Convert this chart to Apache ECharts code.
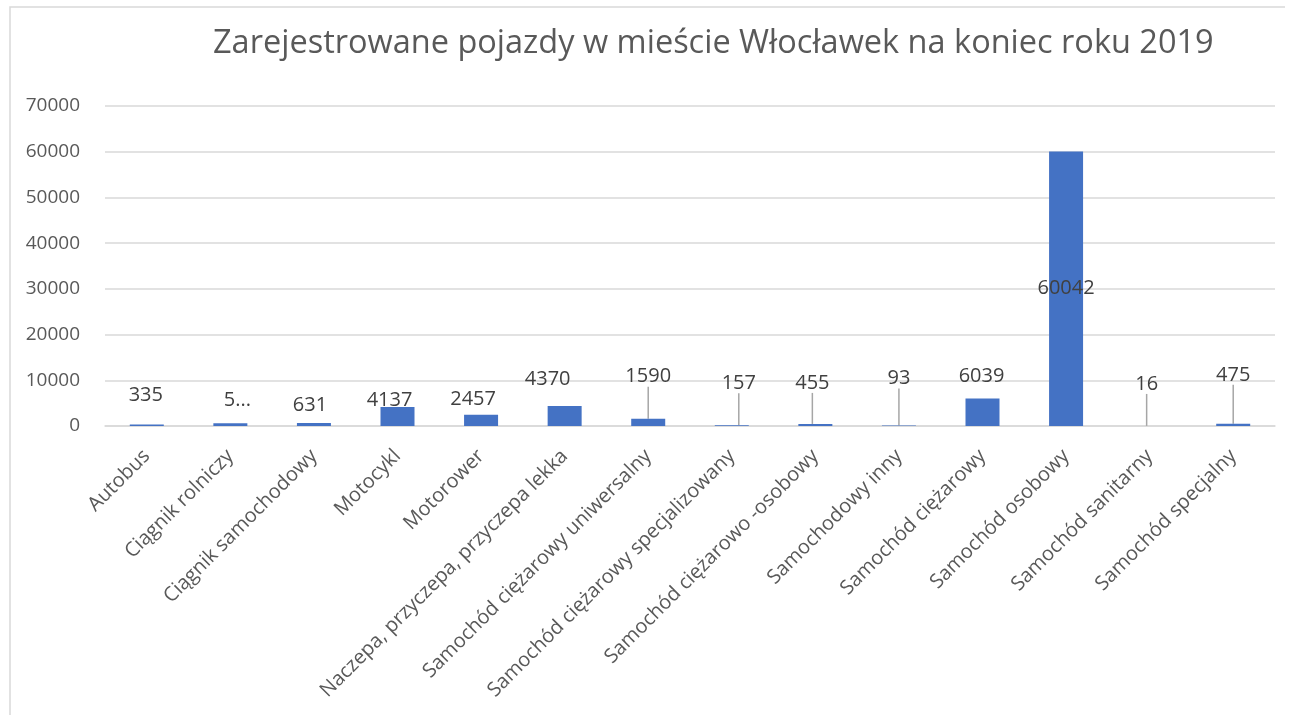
<!DOCTYPE html>
<html>
<head>
<meta charset="utf-8">
<script src="https://cdn.jsdelivr.net/npm/echarts@6/dist/echarts.min.js"></script>
<style>
html,body{margin:0;padding:0;background:#fff;}
#chart{width:1291px;height:715px;}
</style>
</head>
<body>
<div id="chart"></div>
<script>
const categories = [
  'Autobus',
  'Ciągnik rolniczy',
  'Ciągnik samochodowy',
  'Motocykl',
  'Motorower',
  'Naczepa, przyczepa, przyczepa lekka',
  'Samochód ciężarowy uniwersalny',
  'Samochód ciężarowy specjalizowany',
  'Samochód ciężarowo -osobowy',
  'Samochodowy inny',
  'Samochód ciężarowy',
  'Samochód osobowy',
  'Samochód sanitarny',
  'Samochód specjalny'
];
const values = [335, 580, 631, 4137, 2457, 4370, 1590, 157, 455, 93, 6039, 60042, 16, 475];
// label text shown in the reference where it differs from the value (truncated box)
const labelOverrides = [null, '5...', null, null, null, null, null, null, null, null, null, null, null, null];
const titleText = 'Zarejestrowane pojazdy w mieście Włocławek na koniec roku 2019';

// label placement tweaks (pixels) mimicking manually moved Excel labels
const labelShift = [
  [-1, -14], [7, -8], [-4, -3], [-8, 8], [-8, 0], [-17, -12], [0, -27],
  [7, -27], [-3, -26], [0, -32], [-1, -7], [0, 0], [-3, -27], [0, -34]
];
const withLeader = [6, 7, 8, 9, 12, 13];
const insideLabel = [11];
const LEADER_GAP = 7;

const FONT = 'Open Sans';
const chart = echarts.init(document.getElementById('chart'), null, {renderer: 'canvas'});

const seriesData = values.map((v, i) => {
  const item = {value: v};
  if (withLeader.indexOf(i) >= 0) {
    item.labelLine = {show: true};
    item.label = {padding: [0, 0, LEADER_GAP, 0]};
  }
  if (insideLabel.indexOf(i) >= 0) {
    item.label = {position: 'inside'};
  }
  return item;
});

chart.setOption({
  animation: false,
  backgroundColor: '#ffffff',
  title: {
    text: titleText,
    left: 208,
    top: 22,
    textStyle: {fontFamily: FONT, fontSize: 32.5, fontWeight: 'normal', color: '#595959'}
  },
  graphic: [{
    type: 'polyline',
    shape: {points: [[10, 720], [10, 7], [1285, 7]]},
    style: {stroke: '#d9d9d9', lineWidth: 1.5, fill: null},
    silent: true
  }],
  grid: {left: 105, right: 16, top: 106, bottom: 289, containLabel: false},
  xAxis: {
    type: 'category',
    data: categories,
    axisLine: {show: true, lineStyle: {color: '#d9d9d9', width: 1.5}},
    axisTick: {show: false},
    axisLabel: {
      interval: 0,
      rotate: 45,
      margin: 27,
      fontFamily: FONT,
      fontSize: 20,
      color: '#595959'
    }
  },
  yAxis: {
    type: 'value',
    min: 0,
    max: 70000,
    interval: 10000,
    axisLine: {show: false},
    axisTick: {show: false},
    splitLine: {lineStyle: {color: '#d9d9d9', width: 1.5}},
    axisLabel: {
      margin: 25, fontFamily: FONT, fontSize: 19, color: '#595959',
      formatter: v => String(v)
    }
  },
  series: [{
    type: 'bar',
    data: seriesData,
    barWidth: 34,
    itemStyle: {color: '#4472c4'},
    label: {
      show: true,
      position: 'top',
      distance: 5,
      fontFamily: FONT,
      fontSize: 20,
      color: '#404040',
      formatter: p => labelOverrides[p.dataIndex] || String(p.value)
    },
    labelLine: {show: false, lineStyle: {color: '#a6a6a6', width: 1.5}},
    labelLayout: p => {
      const s = labelShift[p.dataIndex];
      const extra = withLeader.indexOf(p.dataIndex) >= 0 ? LEADER_GAP : 0;
      return {dx: s[0], dy: s[1] + extra};
    }
  }]
});
</script>
</body>
</html>
